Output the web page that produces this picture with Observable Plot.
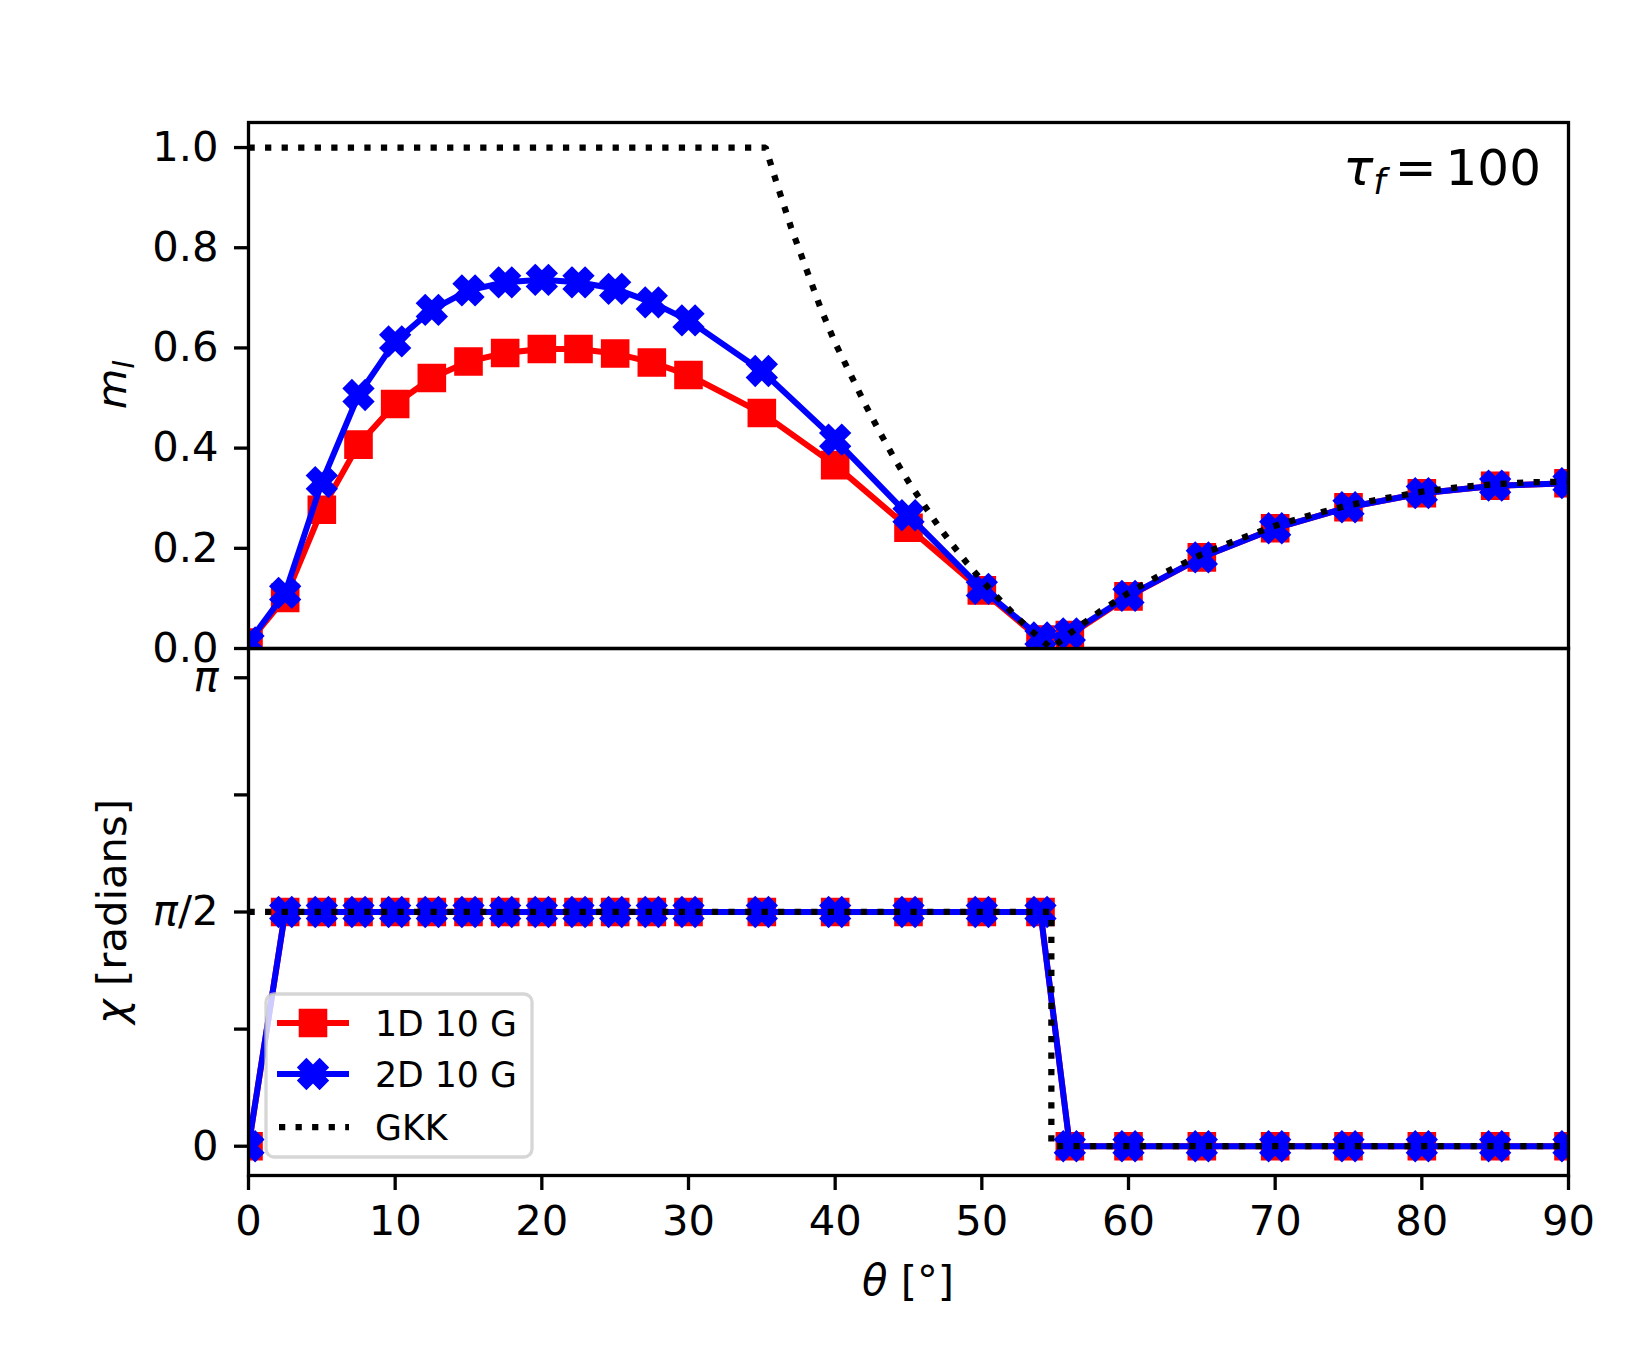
<!DOCTYPE html>
<html>
<head>
<meta charset="utf-8">
<script src="https://cdn.jsdelivr.net/npm/d3@7"></script>
<script src="https://cdn.jsdelivr.net/npm/@observablehq/plot@0.6"></script>
<style>
  html, body { margin: 0; padding: 0; background: #ffffff; }
  #fig { position: relative; width: 1650px; height: 1350px; font-family: "DejaVu Sans", sans-serif; }
  #fig > svg { position: absolute; left: 0; top: 0; }
</style>
</head>
<body>
<div id="fig"></div>
<script>
// ---------------- data ----------------
const theta = [0, 2.5, 5, 7.5, 10, 12.5, 15, 17.5, 20, 22.5, 25, 27.5, 30, 35, 40, 45, 50, 54, 56, 60, 65, 70, 75, 80, 85, 90];
const ml1D = [0.012, 0.101, 0.277, 0.407, 0.488, 0.540, 0.573, 0.590, 0.598, 0.598, 0.589, 0.571, 0.546, 0.470, 0.366, 0.241, 0.116, 0.018, 0.027, 0.104, 0.182, 0.240, 0.282, 0.310, 0.325, 0.330];
const ml2D = [0.012, 0.111, 0.332, 0.506, 0.613, 0.676, 0.715, 0.731, 0.736, 0.731, 0.718, 0.691, 0.655, 0.554, 0.417, 0.266, 0.119, 0.022, 0.030, 0.105, 0.182, 0.240, 0.282, 0.310, 0.325, 0.330];
const chi1D = [0, 1.5708, 1.5708, 1.5708, 1.5708, 1.5708, 1.5708, 1.5708, 1.5708, 1.5708, 1.5708, 1.5708, 1.5708, 1.5708, 1.5708, 1.5708, 1.5708, 1.5708, 0, 0, 0, 0, 0, 0, 0, 0];
const chi2D = [0, 1.5708, 1.5708, 1.5708, 1.5708, 1.5708, 1.5708, 1.5708, 1.5708, 1.5708, 1.5708, 1.5708, 1.5708, 1.5708, 1.5708, 1.5708, 1.5708, 1.5708, 0, 0, 0, 0, 0, 0, 0, 0];

const gkkThetaMl = [0, 35.26, 36, 37, 38, 39, 40, 41, 42, 43, 44, 45, 46, 47, 48, 49, 50, 51, 52, 53, 54, 54.74, 55.5, 56, 57, 58, 59, 60, 62.5, 65, 67.5, 70, 72.5, 75, 77.5, 80, 82.5, 85, 87.5, 90];
const gkkMl = [1, 1, 0.93, 0.84, 0.76, 0.68, 0.61, 0.55, 0.49, 0.434, 0.381, 0.333, 0.289, 0.246, 0.207, 0.170, 0.136, 0.104, 0.074, 0.045, 0.019, 0, 0.018, 0.030, 0.052, 0.073, 0.092, 0.111, 0.152, 0.188, 0.218, 0.245, 0.267, 0.286, 0.300, 0.313, 0.322, 0.328, 0.332, 0.333];
const gkkThetaChi = [0, 54.74, 54.74, 90];
const gkkChi = [1.5708, 1.5708, 0, 0];

const xTicks = [0, 10, 20, 30, 40, 50, 60, 70, 80, 90];
const mlTicks = [0, 0.2, 0.4, 0.6, 0.8, 1.0];
const chiTicks = [0, Math.PI / 4, Math.PI / 2, 3 * Math.PI / 4, Math.PI];
const chiTickLabels = ["0", "", "π/2", "", "π"];
const seriesNames = ["1D 10 G", "2D 10 G", "GKK"];
const seriesColors = ["#ff0000", "#0000ff", "#000000"];

// ---------------- tables ----------------
const rows1D = theta.map((t, i) => ({theta: t, ml: ml1D[i], chi: chi1D[i]}));
const rows2D = theta.map((t, i) => ({theta: t, ml: ml2D[i], chi: chi2D[i]}));
const gkkRowsMl = gkkThetaMl.map((t, i) => ({theta: t, ml: gkkMl[i]}));
const gkkRowsChi = gkkThetaChi.map((t, i) => ({theta: t, chi: gkkChi[i]}));

// ---------------- layout ----------------
const W = 1650, H = 1350;
const L = 248, R = 1568, T = 122, MID = 648, B = 1175;
const LW = 6, RSQ = 12.2, RX = 13.2, MEW = 4.2, SPINE = 3.3;
const FONT = "DejaVu Sans";
const TICKFS = 41.7;

// custom marker symbols (matplotlib 's' and 'X')
const squareSym = {draw(ctx, size) {
  const r = Math.sqrt(size / Math.PI);
  ctx.moveTo(-r, -r); ctx.lineTo(r, -r); ctx.lineTo(r, r); ctx.lineTo(-r, r); ctx.closePath();
}};
const xPts = [[-1,-2],[0,-1],[1,-2],[2,-1],[1,0],[2,1],[1,2],[0,1],[-1,2],[-2,1],[-1,0],[-2,-1]];
const xSym = {draw(ctx, size) {
  const k = Math.sqrt(size / Math.PI) / 2;
  ctx.moveTo(xPts[0][0] * k, xPts[0][1] * k);
  for (let i = 1; i < xPts.length; i++) ctx.lineTo(xPts[i][0] * k, xPts[i][1] * k);
  ctx.closePath();
}};

const common = {
  width: W, height: H, marginLeft: L, marginRight: W - R,
  style: {background: "none", overflow: "visible", fontFamily: FONT, fontSize: TICKFS + "px", color: "#000"}
};

function seriesMarks(yField, gkkRows) {
  return [
    Plot.line(rows1D, {x: "theta", y: yField, stroke: seriesColors[0], strokeWidth: LW, clip: true}),
    Plot.dot(rows1D, {x: "theta", y: yField, symbol: squareSym, r: RSQ, fill: seriesColors[0], stroke: seriesColors[0], strokeWidth: MEW, strokeLinejoin: "miter", clip: true}),
    Plot.line(rows2D, {x: "theta", y: yField, stroke: seriesColors[1], strokeWidth: LW, clip: true}),
    Plot.dot(rows2D, {x: "theta", y: yField, symbol: xSym, r: RX, fill: seriesColors[1], stroke: seriesColors[1], strokeWidth: MEW, strokeLinejoin: "miter", clip: true}),
    Plot.line(gkkRows, {x: "theta", y: yField, stroke: seriesColors[2], strokeWidth: 6.25, strokeDasharray: "6.25,10.3", strokeLinecap: "butt", strokeLinejoin: "miter", clip: true}),
    Plot.frame({stroke: "#000", strokeWidth: SPINE})
  ];
}

// ---------------- bottom panel (chi) ----------------
const bottomPlot = Plot.plot({
  ...common,
  marginTop: MID, marginBottom: H - B,
  x: {domain: [0, 90]},
  y: {domain: [-Math.PI / 16, 17 * Math.PI / 16]},
  marks: [
    ...seriesMarks("chi", gkkRowsChi),
    Plot.axisY({ticks: chiTicks, tickFormat: d => chiTickLabels[chiTicks.indexOf(d)], tickSize: 14, tickPadding: 16, strokeWidth: SPINE, fontSize: TICKFS, label: null}),
    Plot.axisX({ticks: xTicks, tickFormat: d => String(d), tickSize: 15, tickPadding: 15, strokeWidth: SPINE, fontSize: TICKFS, label: null})
  ]
});

// ---------------- top panel (m_l) ----------------
const topPlot = Plot.plot({
  ...common,
  marginTop: T, marginBottom: H - MID,
  x: {domain: [0, 90], axis: null},
  y: {domain: [0, 1.05]},
  marks: [
    ...seriesMarks("ml", gkkRowsMl),
    Plot.axisY({ticks: mlTicks, tickFormat: d => d.toFixed(1), tickSize: 14, tickPadding: 16, strokeWidth: SPINE, fontSize: TICKFS, label: null})
  ]
});

const fig = document.getElementById("fig");
fig.appendChild(bottomPlot);
fig.appendChild(topPlot);

// italic π in tick labels
d3.select(bottomPlot).selectAll("text").each(function () {
  const t = this.textContent;
  if (t.startsWith("π")) {
    const s = d3.select(this);
    s.text("");
    s.append("tspan").attr("font-style", "italic").text("π");
    if (t.length > 1) s.append("tspan").text(t.slice(1));
  }
});

// axis labels
const LABFS = 41.7;
const mlLab = d3.select(topPlot).append("text")
  .attr("transform", `translate(126,${(T + MID) / 2}) rotate(-90)`)
  .attr("text-anchor", "middle").attr("font-family", FONT).attr("font-size", LABFS).attr("fill", "#000");
mlLab.append("tspan").attr("font-style", "italic").text("m");
mlLab.append("tspan").attr("font-style", "italic").attr("font-size", LABFS * 0.7).attr("dy", 8).text("l");

const chiLab = d3.select(bottomPlot).append("text")
  .attr("transform", `translate(126,${(MID + B) / 2}) rotate(-90)`)
  .attr("text-anchor", "middle").attr("font-family", FONT).attr("font-size", LABFS).attr("fill", "#000");
chiLab.append("tspan").attr("font-style", "italic").text("χ");
chiLab.append("tspan").text(" [radians]");

const thLab = d3.select(bottomPlot).append("text")
  .attr("x", (L + R) / 2).attr("y", 1295)
  .attr("text-anchor", "middle").attr("font-family", FONT).attr("font-size", LABFS).attr("fill", "#000");
thLab.append("tspan").attr("font-style", "italic").text("θ");
thLab.append("tspan").text(" [°]");

// tau annotation
const tauLab = d3.select(topPlot).append("text")
  .attr("x", 1541).attr("y", 185)
  .attr("text-anchor", "end").attr("font-family", FONT).attr("font-size", 50).attr("fill", "#000");
tauLab.append("tspan").attr("font-style", "italic").text("τ");
tauLab.append("tspan").attr("font-style", "italic").attr("font-size", 35).attr("dy", 9).text("f");
tauLab.append("tspan").attr("dy", -9).attr("dx", 9).text("=");
tauLab.append("tspan").attr("dx", 9).text("100");

// legend
const LGX = 266, LGY = 994, LGW = 266, LGH = 163, LGFS = 34.7;
const leg = d3.select(fig).append("svg")
  .attr("width", W).attr("height", H)
  .style("position", "absolute").style("left", "0px").style("top", "0px");
const lg = leg.append("g").attr("transform", `translate(${LGX},${LGY})`);
lg.append("rect").attr("x", 0).attr("y", 0).attr("width", LGW).attr("height", LGH)
  .attr("rx", 8).attr("ry", 8)
  .attr("fill", "#ffffff").attr("fill-opacity", 0.8)
  .attr("stroke", "#cccccc").attr("stroke-opacity", 0.8).attr("stroke-width", 3.3);
const rowY = [29, 80, 133];
const symbolPaths = [d3.symbol(squareSym, Math.PI * RSQ * RSQ)(), d3.symbol(xSym, Math.PI * RX * RX)()];
seriesNames.forEach((name, i) => {
  const g = lg.append("g").attr("transform", `translate(0,${rowY[i]})`);
  const ln = g.append("line").attr("x1", 11).attr("x2", 83).attr("y1", 0).attr("y2", 0)
    .attr("stroke", seriesColors[i]).attr("stroke-width", i < 2 ? LW : 6.25);
  if (i === 2) ln.attr("stroke-dasharray", "6.25,10.3").attr("x1", 13);
  if (i < 2) g.append("path").attr("d", symbolPaths[i]).attr("transform", "translate(47,0)")
    .attr("fill", seriesColors[i]).attr("stroke", seriesColors[i]).attr("stroke-width", MEW).attr("stroke-linejoin", "miter");
  g.append("text").attr("x", 109).attr("y", 12.5).attr("font-family", FONT).attr("font-size", LGFS).attr("fill", "#000").text(name);
});
</script>
</body>
</html>
